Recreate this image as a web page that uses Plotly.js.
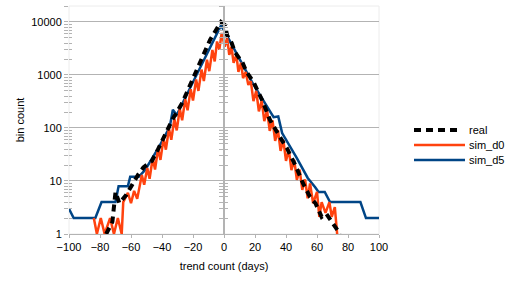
<!DOCTYPE html>
<html>
<head>
<meta charset="utf-8">
<script src="https://cdn.plot.ly/plotly-3.0.1.min.js"></script>
<style>
html,body{margin:0;padding:0;background:#fff;}
#chart{width:514px;height:290px;}
</style>
</head>
<body>
<div id="chart"></div>
<script>
// ---- data ----
var seriesNames = ["real", "sim_d0", "sim_d5"];

var realX = [-76,-72,-70,-67.5,-63,-59.5,-55.5,-52,-46.5,-42.5,-37.5,-33,-27,-21,-15.5,-9,-2,0.6,2,5,7,12,14.5,19,24.5,29.7,36,40.5,46,51,55.5,59,63,66,69.5,73,75];
var realY = [1,1.7,6.2,3.8,5.5,8.5,13,18,24,40,78,150,295,740,1700,4600,10000,8700,5600,4000,2700,1700,1140,740,340,141,68,42,20,9,5,3.8,2.1,2.4,1.7,1.2,1];

var simD0X = [-84,-82,-79.5,-77,-73.5,-71,-68.5,-66,-65,-62,-60,-58,-56,-53,-51.5,-49.5,-48,-46,-44.5,-42.5,-41,-39,-37.5,-35.5,-34,-32,-30.5,-28.5,-27,-25,-23.5,-21.5,-20,-18,-16.5,-14.5,-13,-11,-9.5,-7.5,-6,-4.5,-3,-1.5,0.5,2,3.4,4.8,6.2,8,9.3,11,12.3,14,15.7,17.3,19,20.8,22.5,24.3,26,27.8,29.5,31.3,33,34.8,36.5,38.3,40,41.8,43.5,45.3,47,48.8,50.5,52.3,54,55.5,57.5,60,61.5,63,65.5,68,69.5,71.5,73];
var simD0Y = [2,1,2,1,2,1,2,1,4,6,3.8,6.5,4.6,13,8.5,17.6,11,27,16.5,41,25,63,39,97,60,149,90,229,140,350,215,537,330,823,500,1262,770,1934,1180,2965,1800,4276,3000,6200,3400,5000,2400,3400,1700,2400,1140,1700,870,1140,650,767,320,503,205,327,135,213,88,139,57,91,37,59,24,39,16,25,10.5,16.4,6.8,10.7,4.7,9,3.8,6.2,2.1,4,2.5,4,2.1,3.2,1];

var simD5X = [-100,-97,-83,-79,-70,-68,-62,-60.5,-55,-51,-42.5,-38,-35,-33,-30.5,-2,0,18,29,32,35,37.5,47,54,58.7,61,65,68.4,88,91.6,100];
var simD5Y = [3,2,2,4,4,8,8,12,12,16,41,74,105,220,176,8500,7000,740,220,160,165,80,27,11.4,7.7,6.2,6.2,4,4,2,2];

var xTickVals = [-100,-80,-60,-40,-20,0,20,40,60,80,100];
var yTickVals = [1,10,100,1000,10000];
var yTickText = ["1","10","100","1000","10000"];

var xTitle = "trend count (days)";
var yTitle = "bin count";

// ---- styles ----
var FONT = "Liberation Sans, Arial, sans-serif";
var GRID = "#b3b3b3";
var seriesStyle = [
  {color: "#000000", width: 4, dash: "7px,5px"},
  {color: "#ff420e", width: 2.5, dash: "solid"},
  {color: "#004586", width: 2.5, dash: "solid"}
];

var traces = [
  {x: simD5X, y: simD5Y, name: seriesNames[2], type: "scatter", mode: "lines", line: seriesStyle[2]},
  {x: simD0X, y: simD0Y, name: seriesNames[1], type: "scatter", mode: "lines", line: seriesStyle[1]},
  {x: realX, y: realY, name: seriesNames[0], type: "scatter", mode: "lines", line: seriesStyle[0]}
];

var yRange = [0, Math.log10(20000)];
var minorOut = {dtick: "D1", ticks: "outside", ticklen: 4, tickcolor: GRID, showgrid: false};
var minorIn = {dtick: "D1", ticks: "inside", ticklen: 3, tickcolor: GRID, showgrid: false};

// legend drawn beside the plot (pixel layout -> paper coordinates)
var M = {l: 69, r: 135, t: 6, b: 56};
var PW = 514 - M.l - M.r, PH = 290 - M.t - M.b;
function px(x) { return (x - M.l) / PW; }
function py(y) { return (290 - M.b - y) / PH; }
var legendRows = [130, 145, 160];
var legendLineEnd = [460, 465, 465];
var shapes = [
  {type: "rect", xref: "paper", yref: "paper", x0: 0, x1: 1, y0: 0, y1: 1,
   line: {color: "#ececec", width: 1}, layer: "below"}
];
var annotations = [];
for (var i = 0; i < seriesNames.length; i++) {
  shapes.push({type: "line", xref: "paper", yref: "paper",
    x0: px(414), x1: px(legendLineEnd[i]), y0: py(legendRows[i]), y1: py(legendRows[i]),
    line: {color: seriesStyle[i].color, width: seriesStyle[i].width, dash: seriesStyle[i].dash}});
  annotations.push({xref: "paper", yref: "paper", x: px(467), y: py(legendRows[i]),
    xanchor: "left", yanchor: "middle", showarrow: false, text: seriesNames[i],
    font: {family: FONT, size: 11, color: "#000"}});
}

var layout = {
  width: 514, height: 290,
  margin: {l: M.l, r: M.r, t: M.t, b: M.b, pad: 0},
  paper_bgcolor: "#ffffff", plot_bgcolor: "#ffffff",
  font: {family: FONT, size: 11, color: "#000000"},
  showlegend: false,
  xaxis: {
    range: [-100, 100], tickmode: "array", tickvals: xTickVals,
    showgrid: false, zeroline: false, showline: true, linecolor: GRID, linewidth: 1,
    ticks: "outside", ticklen: 3, tickcolor: GRID,
    tickfont: {family: FONT, size: 11, color: "#000"},
    title: {text: xTitle, font: {family: FONT, size: 11, color: "#000"}, standoff: 10},
    automargin: false, fixedrange: true
  },
  yaxis: {
    type: "log", range: yRange, tickmode: "array", tickvals: yTickVals, ticktext: yTickText,
    showgrid: true, gridcolor: GRID, gridwidth: 1, zeroline: false, showline: false,
    ticks: "outside", ticklen: 4, tickcolor: GRID, minor: minorOut,
    tickfont: {family: FONT, size: 11, color: "#000"},
    title: {text: yTitle, font: {family: FONT, size: 11, color: "#000"}, standoff: 4},
    automargin: false, fixedrange: true
  },
  yaxis3: {
    type: "log", range: yRange, overlaying: "y", side: "left",
    tickmode: "array", tickvals: yTickVals, showticklabels: false,
    showgrid: false, zeroline: false, showline: false,
    ticks: "inside", ticklen: 3, tickcolor: GRID, minor: minorIn, fixedrange: true
  },
  yaxis2: {
    type: "log", range: yRange, overlaying: "y", anchor: "free", position: 0.5, side: "left",
    tickmode: "array", tickvals: yTickVals, showticklabels: false,
    showgrid: false, zeroline: false, showline: true, linecolor: GRID, linewidth: 2,
    ticks: "outside", ticklen: 4, tickcolor: GRID, minor: minorOut, fixedrange: true
  },
  yaxis4: {
    type: "log", range: yRange, overlaying: "y", anchor: "free", position: 0.5, side: "left",
    tickmode: "array", tickvals: yTickVals, showticklabels: false,
    showgrid: false, zeroline: false, showline: false,
    ticks: "inside", ticklen: 4, tickcolor: GRID, minor: minorIn, fixedrange: true
  },
  shapes: shapes,
  annotations: annotations
};

// invisible helper traces so the overlay axes are drawn
traces.push({x: [0], y: [1], yaxis: "y2", type: "scatter", mode: "none", showlegend: false, hoverinfo: "skip"});
traces.push({x: [0], y: [1], yaxis: "y3", type: "scatter", mode: "none", showlegend: false, hoverinfo: "skip"});
traces.push({x: [0], y: [1], yaxis: "y4", type: "scatter", mode: "none", showlegend: false, hoverinfo: "skip"});

Plotly.newPlot("chart", traces, layout, {displayModeBar: false, staticPlot: true});
</script>
</body>
</html>
